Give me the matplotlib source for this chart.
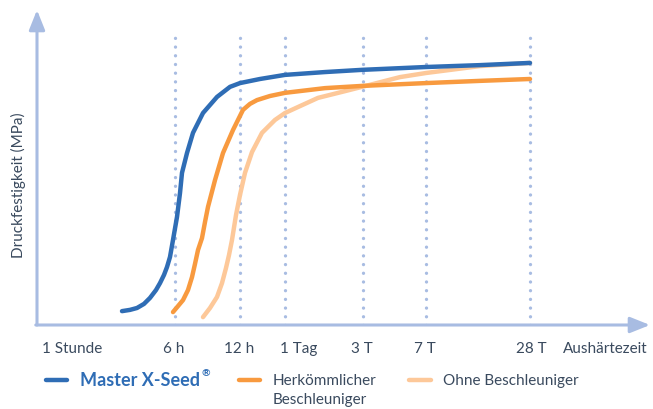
import matplotlib
matplotlib.use('Agg')
import matplotlib.pyplot as plt

plt.rcParams['font.family'] = ['Lato', 'DejaVu Sans']

# colours
AXIS = '#a8bce2'
TEXT = '#3a4a5e'
BLUE = '#2f6db5'
ORANGE = '#f89a3f'
LIGHT = '#fdc899'

# x positions (px from the y axis), y as relative strength (0..100)
time_labels = ['1 Stunde', '6 h', '12 h', '1 Tag', '3 T', '7 T', '28 T']
label_x = [35, 137, 202, 262, 325, 388, 494]
grid_x = [138, 203, 248, 326, 389, 493]

blue_x = [85, 93, 100, 107, 113, 119, 123, 127, 130, 133, 136, 140, 143, 145, 150,
          156, 166, 180, 193, 203, 223, 248, 288, 325, 389, 443, 493]
blue_y = [4.4, 4.8, 5.4, 6.7, 8.6, 11.1, 13.3, 15.9, 18.4, 21.6, 27.0, 34.3, 41.9, 48.3,
          54.6, 61.0, 67.3, 72.4, 75.6, 76.8, 78.1, 79.4, 80.3, 81.0, 81.9, 82.5, 83.2]

orange_x = [136, 141, 146, 151, 155, 158, 161, 165, 168, 171, 178, 186, 196, 206, 213,
            220, 233, 248, 288, 325, 389, 443, 493]
orange_y = [4.1, 6.0, 7.9, 11.1, 15.2, 19.4, 23.8, 27.6, 32.7, 37.5, 46.0, 54.6, 61.9,
            68.3, 70.2, 71.4, 72.7, 73.7, 75.2, 75.9, 76.8, 77.5, 78.1]

light_x = [166, 173, 180, 185, 189, 192, 195, 199, 203, 208, 215, 225, 238, 248, 261,
           281, 305, 325, 363, 389, 443, 493]
light_y = [2.5, 5.4, 8.9, 13.3, 18.1, 22.2, 27.0, 34.9, 41.3, 48.3, 54.9, 61.0, 65.1,
           67.3, 69.2, 72.1, 74.0, 75.6, 78.7, 80.0, 82.2, 83.2]

fig = plt.figure(figsize=(6.53, 4.09), dpi=100)

# overlay in pixel coords for labels and legend
lay = fig.add_axes([0, 0, 1, 1])
lay.set_xlim(0, 653)
lay.set_ylim(409, 0)
lay.axis('off')

ax = fig.add_axes([37 / 653, (409 - 325) / 409, 613 / 653, 315 / 409])
ax.set_xlim(0, 613)
ax.set_ylim(0, 100)
ax.axis('off')

for gx in grid_x:
    ax.plot([gx, gx], [0, 92.4], color=AXIS, lw=2.4, linestyle=(0, (0.01, 2.6)),
            dash_capstyle='round')

line_kw = dict(lw=3.2, solid_capstyle='round', solid_joinstyle='round')
ax.plot(light_x, light_y, color=LIGHT, **line_kw)
ax.plot(orange_x, orange_y, color=ORANGE, **line_kw)
ax.plot(blue_x, blue_y, color=BLUE, **line_kw)

# axes with arrow heads
arr = dict(arrowstyle='-|>,head_length=0.6,head_width=0.24', lw=2.2, color=AXIS,
           mutation_scale=20, shrinkA=0, shrinkB=0)
ax.annotate('', xy=(0, 1), xytext=(0, 0), xycoords='axes fraction', arrowprops=arr)
ax.annotate('', xy=(1, 0), xytext=(-0.002, 0), xycoords='axes fraction', arrowprops=arr)

for lab, lx in zip(time_labels, label_x):
    lay.text(lx + 37, 349, lab, ha='center', va='center', fontsize=11, color=TEXT)
lay.text(563, 349, 'Aushärtezeit', ha='left', va='center', fontsize=11, color=TEXT)
lay.text(18, 185, 'Druckfestigkeit (MPa)', rotation=90, ha='center', va='center',
         fontsize=11, color=TEXT)

# legend
lay.plot([46, 67], [380, 380], color=BLUE, lw=3.2, solid_capstyle='round')
t = lay.text(80, 381, 'Master X-Seed', ha='left', va='center', fontsize=13,
             fontweight='bold', color=BLUE)
fig.canvas.draw()
bb = t.get_window_extent().transformed(lay.transData.inverted())
lay.text(max(bb.x0, bb.x1) + 1, 374, '®', ha='left', va='center', fontsize=7.5,
         fontweight='bold', color=BLUE)
lay.plot([239, 260], [380, 380], color=ORANGE, lw=3.2, solid_capstyle='round')
lay.text(273, 381, 'Herkömmlicher', ha='left', va='center', fontsize=11, color=TEXT)
lay.text(273, 400, 'Beschleuniger', ha='left', va='center', fontsize=11, color=TEXT)
lay.plot([409, 431], [380, 380], color=LIGHT, lw=3.2, solid_capstyle='round')
lay.text(443, 381, 'Ohne Beschleuniger', ha='left', va='center', fontsize=11, color=TEXT)

fig.savefig('out.png', dpi=100)
